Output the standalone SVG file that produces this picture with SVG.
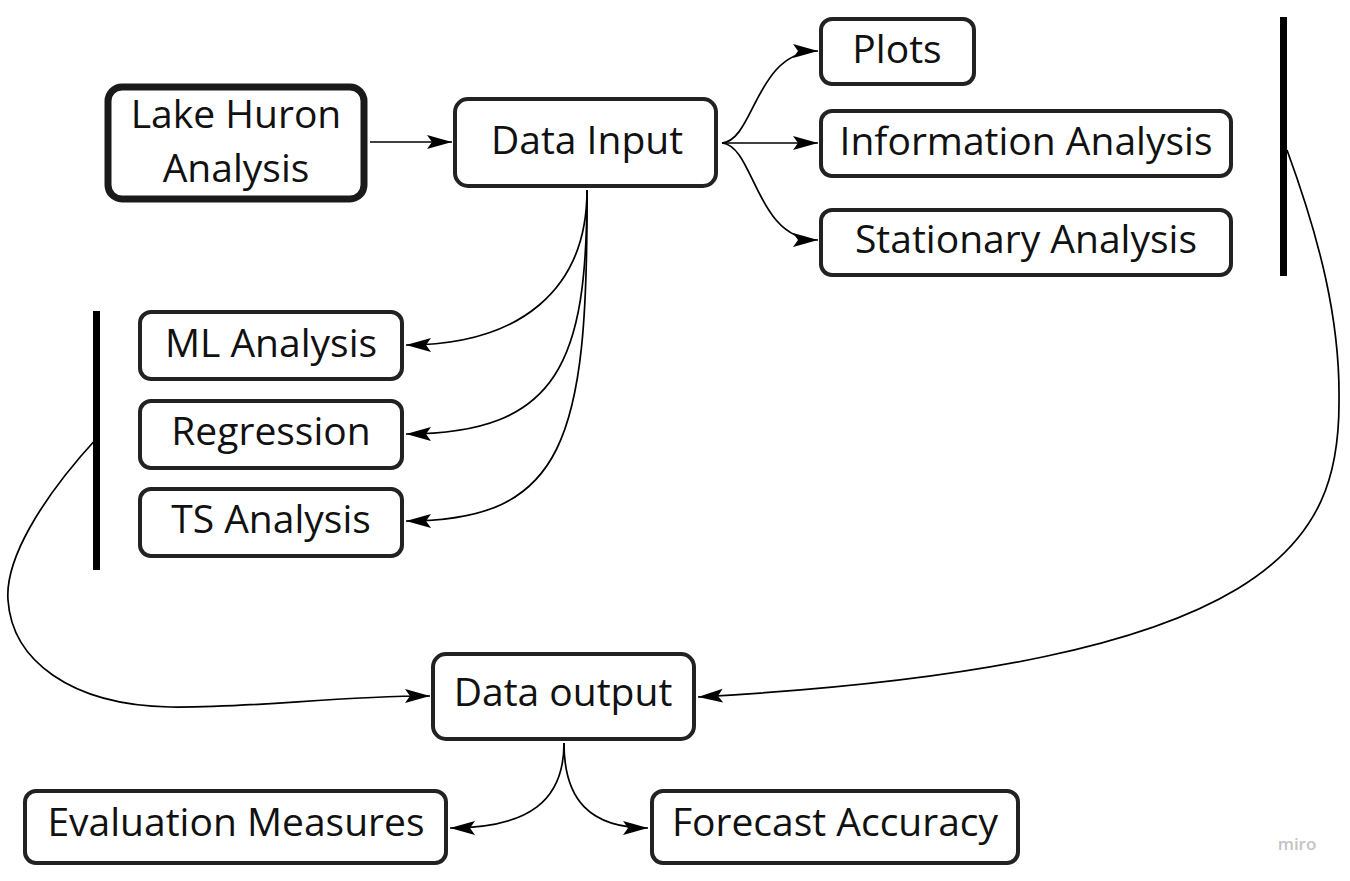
<svg xmlns="http://www.w3.org/2000/svg" width="1350" height="881" viewBox="0 0 1350 881">
<style>
.box{fill:#fff;stroke:#222;stroke-width:4}
.thick{fill:#fff;stroke:#1a1a1a;stroke-width:7}
.t{font-family:"Open Sans","Noto Sans",sans-serif;font-size:39px;fill:#111;text-anchor:middle}
.c{fill:none;stroke:#000;stroke-width:1.7}
.bar{fill:#000}
</style>
<defs>
<marker id="ah" markerUnits="userSpaceOnUse" markerWidth="28" markerHeight="16" refX="25" refY="7" orient="auto">
<path d="M0,0 L25,7 L0,14 L5,7 z" fill="#000"/>
</marker>
</defs>
<rect width="1350" height="881" fill="#fff"/>
<g id="connectors">
<path class="c" d="M370,142 L452,142" marker-end="url(#ah)"/>
<path class="c" d="M722,143 C755,140 755,51 818,51" marker-end="url(#ah)"/>
<path class="c" d="M722,143 L818,143" marker-end="url(#ah)"/>
<path class="c" d="M722,143 C755,146 755,240 818,240" marker-end="url(#ah)"/>
<path class="c" d="M587,190 C587,290 520,345 406,345" marker-end="url(#ah)"/>
<path class="c" d="M587,190 C587,360 560,434 406,434" marker-end="url(#ah)"/>
<path class="c" d="M587,190 C588,440 565,521 406,521" marker-end="url(#ah)"/>
<path class="c" d="M1287,150 C1320,240 1340,320 1339,400 C1340,540 1280,665 698,697" marker-end="url(#ah)"/>
<path class="c" d="M97,438 C40,500 5,560 8,600 C12,660 70,705 170,707 C260,708 330,696 430,696" marker-end="url(#ah)"/>
<path class="c" d="M564,743 C564,800 530,828 450,828" marker-end="url(#ah)"/>
<path class="c" d="M564,743 C564,800 590,828 648,828" marker-end="url(#ah)"/>
</g>
<g id="bars">
<rect class="bar" x="1280" y="17" width="7" height="259"/>
<rect class="bar" x="93" y="311" width="7" height="259"/>
</g>
<g id="lake-huron">
<rect class="thick" x="108" y="87" width="256" height="112" rx="14"/>
<text class="t" x="236" y="128">Lake Huron</text>
<text class="t" x="236" y="182">Analysis</text>
</g>
<g id="data-input">
<rect class="box" x="455" y="99" width="261" height="87" rx="13"/>
<text class="t" x="587" y="154">Data Input</text>
</g>
<g id="plots">
<rect class="box" x="821" y="19" width="153" height="65" rx="11"/>
<text class="t" x="897" y="63">Plots</text>
</g>
<g id="information-analysis">
<rect class="box" x="821" y="111" width="410" height="65" rx="11"/>
<text class="t" x="1026" y="155">Information Analysis</text>
</g>
<g id="stationary-analysis">
<rect class="box" x="821" y="210" width="410" height="65" rx="11"/>
<text class="t" x="1026" y="253">Stationary Analysis</text>
</g>
<g id="ml-analysis">
<rect class="box" x="140" y="312" width="262" height="67" rx="11"/>
<text class="t" x="271" y="357">ML Analysis</text>
</g>
<g id="regression">
<rect class="box" x="140" y="401" width="262" height="67" rx="11"/>
<text class="t" x="271" y="445">Regression</text>
</g>
<g id="ts-analysis">
<rect class="box" x="140" y="489" width="262" height="67" rx="11"/>
<text class="t" x="271" y="533">TS Analysis</text>
</g>
<g id="data-output">
<rect class="box" x="433" y="654" width="261" height="85" rx="13"/>
<text class="t" x="563" y="706">Data output</text>
</g>
<g id="evaluation-measures">
<rect class="box" x="25" y="791" width="421" height="72" rx="11"/>
<text class="t" x="236" y="836">Evaluation Measures</text>
</g>
<g id="forecast-accuracy">
<rect class="box" x="652" y="791" width="366" height="72" rx="11"/>
<text class="t" x="835" y="836">Forecast Accuracy</text>
</g>
<text x="1297" y="850" font-family="'Open Sans',sans-serif" font-size="17" font-weight="600" fill="#c4c4c4" text-anchor="middle">miro</text>
</svg>
